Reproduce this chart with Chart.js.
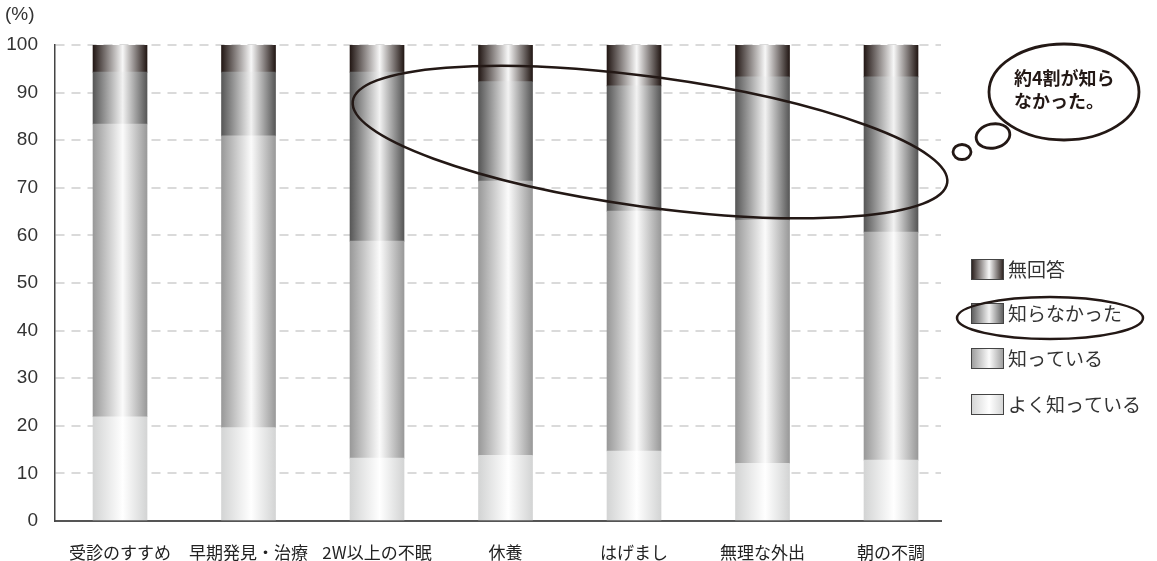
<!DOCTYPE html>
<html>
<head>
<meta charset="utf-8">
<script src="https://cdn.jsdelivr.net/npm/chart.js@4.4.1/dist/chart.umd.min.js"></script>
<style>
  html, body { margin: 0; padding: 0; background: #fff; }
  #wrap { width: 1157px; height: 561px; }
</style>
</head>
<body>
<div id="wrap"><canvas id="chart"></canvas></div>
<script>
// カテゴリと系列の値 (%)
const categories = ['受診のすすめ', '早期発見・治療', '2W以上の不眠', '休養', 'はげまし', '無理な外出', '朝の不調'];
const seriesNames = ['よく知っている', '知っている', '知らなかった', '無回答'];
const wellKnown = [21.9, 19.6, 13.2, 13.8, 14.7, 12.1, 12.8];
const known     = [61.5, 61.3, 45.6, 57.6, 50.4, 51.1, 47.9];
const unknown   = [10.9, 13.4, 35.5, 20.9, 26.3, 30.1, 32.6];
const noAnswer  = [5.7, 5.7, 5.7, 7.7, 8.6, 6.7, 6.7];
const yTicks = [0, 10, 20, 30, 40, 50, 60, 70, 80, 90, 100];
const bubbleLines = ['約4割が知ら', 'なかった。'];

const BAR_W = 54;
const numFont = '"Liberation Sans Narrow", "Liberation Sans", sans-serif';
const jpFont = '"Noto Sans CJK JP", sans-serif';
const ink = '#231815';

// 系列ごとの陰影 (端の色, 中央の色)
const shades = [
  ['#d3d4d4', '#ffffff'],
  ['#999999', '#fbfbfb'],
  ['#575757', '#f2f2f2'],
  ['#231815', '#f7f7f7']
];

function makeGradient(ctx, x0, x1, shade) {
  const g = ctx.createLinearGradient(x0, 0, x1, 0);
  g.addColorStop(0, shade[0]);
  g.addColorStop(0.55, shade[1]);
  g.addColorStop(1, shade[0]);
  return g;
}

function barFill(shade) {
  return function (c) {
    const chart = c.chart;
    if (!chart.chartArea || !chart.scales.x) return shade[0];
    const x = chart.scales.x.getPixelForValue(c.dataIndex);
    return makeGradient(chart.ctx, x - BAR_W / 2, x + BAR_W / 2, shade);
  };
}

const values = [wellKnown, known, unknown, noAnswer];

const datasets = values.map((vals, s) => ({
  label: seriesNames[s],
  data: vals.map((v, i) => ({ x: i, y: v })),
  backgroundColor: barFill(shades[s]),
  borderWidth: 0,
  barThickness: BAR_W
}));

function ellipse(ctx, cx, cy, rx, ry, rot) {
  ctx.beginPath();
  ctx.ellipse(cx, cy, rx, ry, rot, 0, Math.PI * 2);
  ctx.stroke();
}

// 注記・凡例・吹き出し
const notes = {
  id: 'notes',
  afterDraw(chart) {
    const ctx = chart.ctx;
    ctx.save();

    ctx.fillStyle = '#333';
    ctx.font = '19px ' + numFont;
    ctx.textAlign = 'left';
    ctx.textBaseline = 'middle';
    ctx.fillText('(%)', 5, 15);

    ctx.strokeStyle = ink;
    ctx.lineWidth = 2.5;
    // 大きな楕円
    ellipse(ctx, 650, 142, 300, 65, 7.8 * Math.PI / 180);

    // 吹き出し
    ctx.lineWidth = 2.8;
    ctx.fillStyle = '#fff';
    ctx.beginPath();
    ctx.ellipse(1064, 92, 75, 48, 0, 0, Math.PI * 2);
    ctx.fill();
    ctx.stroke();
    ellipse(ctx, 993, 136, 17, 12, -0.2);
    ellipse(ctx, 962, 152, 9, 7.5, 0);

    ctx.fillStyle = ink;
    ctx.font = 'bold 18px ' + jpFont;
    ctx.textAlign = 'left';
    ctx.fillText(bubbleLines[0], 1014, 78);
    ctx.fillText(bubbleLines[1], 1014, 101);

    // 凡例 (上から 無回答 → よく知っている)
    const order = [3, 2, 1, 0];
    const legendY = [269, 313, 358, 404];
    ctx.font = '19px ' + jpFont;
    order.forEach((s, k) => {
      const y = legendY[k];
      ctx.fillStyle = makeGradient(ctx, 971, 1004, shades[s]);
      ctx.fillRect(971, y - 10, 33, 21);
      ctx.lineWidth = 1;
      ctx.strokeStyle = '#444';
      ctx.strokeRect(971.5, y - 9.5, 32, 20);
      ctx.fillStyle = '#333';
      ctx.fillText(seriesNames[s], 1008, y + 1);
    });

    ctx.strokeStyle = ink;
    ctx.lineWidth = 2.5;
    ellipse(ctx, 1050, 318, 93, 21, 0);

    ctx.restore();
  }
};

new Chart(document.getElementById('chart'), {
  type: 'bar',
  data: { datasets: datasets },
  plugins: [notes],
  options: {
    responsive: true,
    maintainAspectRatio: false,
    animation: false,
    layout: { padding: { top: 45, right: 216, left: 0, bottom: 0 } },
    plugins: {
      legend: { display: false },
      tooltip: { enabled: false }
    },
    scales: {
      x: {
        type: 'linear',
        stacked: true,
        offset: false,
        min: -0.506,
        max: 6.389,
        grid: { display: false, offset: false },
        border: { display: true, color: '#555', width: 2 },
        afterBuildTicks: s => { s.ticks = categories.map((c, i) => ({ value: i })); },
        afterFit: s => { s.height = 40; },
        ticks: {
          autoSkip: false,
          maxRotation: 0,
          padding: 13,
          color: '#222',
          font: { family: jpFont, size: 17 },
          callback: v => categories[v]
        }
      },
      y: {
        stacked: true,
        min: 0,
        max: 100,
        afterBuildTicks: s => { s.ticks = yTicks.map(v => ({ value: v })); },
        afterFit: s => { s.width = 55; },
        grid: {
          color: '#dadada',
          lineWidth: 2,
          drawTicks: false
        },
        border: { display: true, color: '#444', width: 1.5, dash: [9, 7] },
        ticks: {
          padding: 17,
          color: '#333',
          font: { family: numFont, size: 19 }
        }
      }
    }
  }
});
</script>
</body>
</html>
